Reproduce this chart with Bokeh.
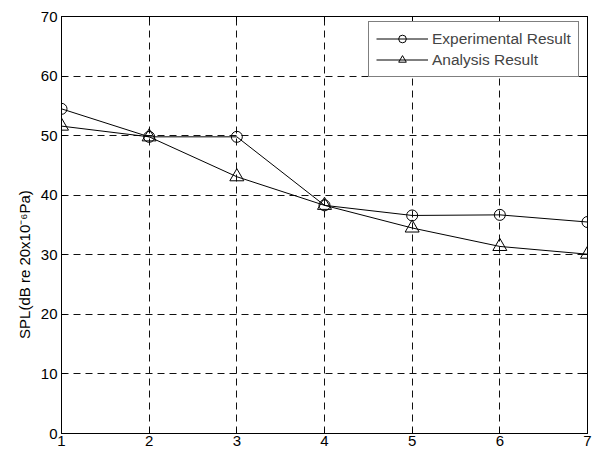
from bokeh.plotting import figure
from bokeh.models import Range1d, FixedTicker, LinearAxis, Legend, LegendItem
from bokeh.embed import file_html
from bokeh.resources import INLINE

x = [1, 2, 3, 4, 5, 6, 7]
experimental = [54.5, 49.8, 49.8, 38.3, 36.6, 36.7, 35.5]
analysis = [51.6, 49.8, 43.1, 38.3, 34.5, 31.4, 30.1]
xticks = [1, 2, 3, 4, 5, 6, 7]
yticks = [0, 10, 20, 30, 40, 50, 60, 70]
ylabel = "SPL(dB re 20x10\u207b\u2076Pa)"

FONT = "Liberation Sans"
FS = "15px"

p = figure(width=597, height=451, output_backend="svg", toolbar_location=None,
           x_range=Range1d(1, 7), y_range=Range1d(0, 70),
           min_border_left=61, min_border_right=10, min_border_top=16, min_border_bottom=18)
p.background_fill_color = "white"
p.border_fill_color = "white"
p.outline_line_color = "black"
p.outline_line_width = 1

for ax in (p.xaxis[0], p.yaxis[0]):
    ax.axis_line_color = "black"
    ax.major_tick_in = 5
    ax.major_tick_out = 0
    ax.minor_tick_line_color = None
    ax.major_tick_line_color = "black"
    ax.major_label_text_font = FONT
    ax.major_label_text_font_size = FS
    ax.major_label_text_color = "black"
p.xaxis.ticker = FixedTicker(ticks=xticks)
p.yaxis.ticker = FixedTicker(ticks=yticks)
p.xaxis.major_label_standoff = 2
p.yaxis.major_label_standoff = 4

# y-axis title (trailing no-break spaces shift it below the frame centre, as in the original)
p.yaxis.axis_label = ylabel + "\u00a0" * 19
p.yaxis.axis_label_text_font = FONT
p.yaxis.axis_label_text_font_size = FS
p.yaxis.axis_label_text_font_style = "normal"
p.yaxis.axis_label_text_color = "black"
p.yaxis.axis_label_standoff = 5

top = LinearAxis(ticker=FixedTicker(ticks=xticks), major_tick_in=5, major_tick_out=0,
                 minor_tick_line_color=None, major_label_text_color=None, major_label_text_font_size="0px",
                 axis_line_color="black")
right = LinearAxis(ticker=FixedTicker(ticks=yticks), major_tick_in=5, major_tick_out=0,
                   minor_tick_line_color=None, major_label_text_color=None, major_label_text_font_size="0px",
                   axis_line_color="black")
p.add_layout(top, "above")
p.add_layout(right, "right")

p.xgrid[0].ticker = FixedTicker(ticks=xticks)
p.ygrid[0].ticker = FixedTicker(ticks=yticks)
for g in (p.xgrid[0], p.ygrid[0]):
    g.grid_line_color = "#111111"
    g.grid_line_dash = "7 5"
    g.grid_line_width = 1

l1 = p.line(x, experimental, line_color="black", line_width=1)
m1 = p.scatter(x, experimental, marker="circle", size=11, fill_color=None, line_color="black")
l2 = p.line(x, analysis, line_color="black", line_width=1)
m2 = p.scatter(x, analysis, marker="triangle", size=14, fill_color=None, line_color="black")

legend = Legend(items=[LegendItem(label="Experimental Result", renderers=[l1, m1]),
                       LegendItem(label="Analysis Result", renderers=[l2, m2])],
                location=(307, 356),
                border_line_color="black", border_line_width=1,
                background_fill_color="white", background_fill_alpha=1,
                label_text_font=FONT, label_text_font_size="15.5px",
                glyph_width=52, glyph_height=19, label_height=19, label_standoff=4,
                padding=7, spacing=2)
p.add_layout(legend, "center")

open("out.html", "w").write(file_html(p, INLINE))
